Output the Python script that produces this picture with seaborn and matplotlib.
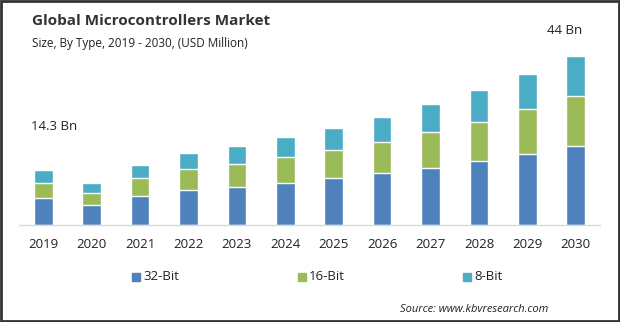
import matplotlib
matplotlib.use("Agg")
import matplotlib.pyplot as plt
import seaborn as sns
import pandas as pd
import numpy as np
from matplotlib.patches import Rectangle

years = ["2019", "2020", "2021", "2022", "2023", "2024", "2025", "2026", "2027", "2028", "2029", "2030"]
bit32 = [7020, 5200, 7620, 9100, 9880, 10920, 12220, 13520, 14820, 16640, 18460, 20540]
bit16 = [3980, 3120, 4680, 5460, 5980, 6760, 7280, 8060, 9360, 10140, 11700, 13000]
bit8 = [3300, 2600, 3300, 4160, 4680, 5200, 5720, 6500, 7280, 8320, 9100, 10460]
series_names = ["32-Bit", "16-Bit", "8-Bit"]
colors = ["#4F81BD", "#9BBB59", "#4BACC6"]
first_label = "14.3 Bn"
last_label = "44 Bn"

sns.set_theme(style="white")
plt.rcParams["font.family"] = ["Open Sans", "DejaVu Sans"]

df = pd.DataFrame({"year": years, "32-Bit": bit32, "16-Bit": bit16, "8-Bit": bit8})
df["c1"] = df["32-Bit"]
df["c2"] = df["32-Bit"] + df["16-Bit"]
df["c3"] = df["c2"] + df["8-Bit"]

fig = plt.figure(figsize=(6.2, 3.22), dpi=100)
ax = fig.add_axes([19 / 620, (322 - 225) / 322, (600 - 19) / 620, 175 / 322])

for col, color, name in zip(["c3", "c2", "c1"], colors[::-1], series_names[::-1]):
    sns.barplot(data=df, x="year", y=col, color=color, width=0.385, ax=ax,
                saturation=1, label=name, order=years)

ax.set_ylim(0, 45500)
ax.set_xlim(-0.5, len(years) - 0.5)
ax.set_xlabel("")
ax.set_ylabel("")
ax.set_yticks([])
for s in ["top", "right", "left"]:
    ax.spines[s].set_visible(False)
ax.spines["bottom"].set_color("#d9d9d9")
ax.spines["bottom"].set_linewidth(1)
ax.tick_params(axis="x", length=0, pad=9, labelsize=9.5, colors="#222222")
ax.legend().remove()

# legend
leg_x = [132, 298, 463]
for hx, c, name in zip(leg_x, colors, series_names):
    fig.patches.append(Rectangle((hx / 620, (322 - 281) / 322), 8 / 620, 8 / 322,
                                 transform=fig.transFigure, color=c))
    fig.text((hx + 11) / 620, (322 - 277) / 322, name, fontsize=9.5, va="center",
             ha="left", color="#222222")

fig.text(32 / 620, (322 - 21) / 322, "Global Microcontrollers Market", fontsize=11,
         fontweight="bold", color="#333333", va="center", ha="left")
fig.text(32 / 620, (322 - 43) / 322, "Size, By Type, 2019 - 2030, (USD Million)", fontsize=8.5,
         color="#222222", va="center", ha="left")
fig.text(31 / 620, (322 - 126) / 322, first_label, fontsize=9.5, color="#222222",
         va="center", ha="left")
fig.text(547 / 620, (322 - 30) / 322, last_label, fontsize=9.5, color="#222222",
         va="center", ha="left")
fig.text(400 / 620, (322 - 309) / 322, "Source: www.kbvresearch.com", fontsize=8,
         style="italic", color="#222222", va="center", ha="left")

fig.patches.append(Rectangle((0.0016, 0.003), 0.9968, 0.994, transform=fig.transFigure,
                             fill=False, edgecolor="#333333", linewidth=2))

fig.savefig("out.png", dpi=100)
